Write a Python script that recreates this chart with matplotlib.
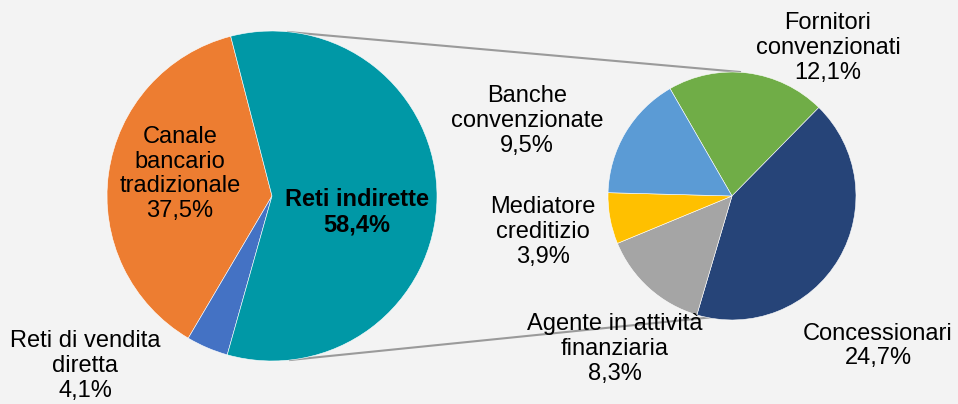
import matplotlib.pyplot as plt

plt.rcParams['font.family'] = ['Liberation Sans', 'DejaVu Sans']

# main pie
main_labels = ['Canale\nbancario\ntradizionale', 'Reti di vendita\ndiretta', 'Reti indirette']
main_values = [37.5, 4.1, 58.4]
main_colors = ['#ED7D31', '#4472C4', '#0098A6']

# breakdown of "Reti indirette"
sub_labels = ['Fornitori\nconvenzionati', 'Concessionari', 'Agente in attività\nfinanziaria',
              'Mediatore\ncreditizio', 'Banche\nconvenzionate']
sub_values = [12.1, 24.7, 8.3, 3.9, 9.5]
sub_colors = ['#70AD47', '#264478', '#A5A5A5', '#FFC000', '#5B9BD5']


def pct(v):
    return f'{v:.1f}%'.replace('.', ',')


fig = plt.figure(figsize=(9.58, 4.04), dpi=100)
fig.patch.set_facecolor('#f3f3f3')
ax = fig.add_axes([0, 0, 1, 1])
ax.set_facecolor('#f3f3f3')

c1, r1 = (272, 208), 165
c2, r2 = (732, 208), 124

ax.pie(main_values, colors=main_colors, startangle=104.5, counterclock=True,
       center=c1, radius=r1, frame=True,
       wedgeprops=dict(edgecolor='white', linewidth=0.4))
ax.pie(sub_values, colors=sub_colors, startangle=120, counterclock=False,
       center=c2, radius=r2, frame=True,
       wedgeprops=dict(edgecolor='white', linewidth=0.4))
ax.set_xlim(0, 958)
ax.set_ylim(0, 404)
ax.set_aspect('equal')
ax.axis('off')

# connector lines
ax.plot([c1[0] + 16, c2[0] + 8], [c1[1] + r1 - 1, c2[1] + r2], color='#9a9a9a', lw=1.5, zorder=0.5)
ax.plot([c1[0] + 18, c2[0] - 8], [c1[1] - r1 + 1, c2[1] - r2 + 4], color='#9a9a9a', lw=1.5, zorder=0.5)

fs = 17
ls = 1.15
ax.text(180, 230, main_labels[0] + '\n' + pct(main_values[0]), ha='center', va='center',
        fontsize=fs, linespacing=ls)
ax.text(85, 38, main_labels[1] + '\n' + pct(main_values[1]), ha='center', va='center',
        fontsize=fs, linespacing=ls)
ax.text(357, 192, main_labels[2] + '\n' + pct(main_values[2]), ha='center', va='center',
        fontsize=fs, linespacing=ls, fontweight='bold')

sub_pos = [(828, 356), (878, 58), (615, 55), (543, 172), (527, 283)]
for lab, v, (x, y) in zip(sub_labels, sub_values, sub_pos):
    ax.text(x, y, lab + '\n' + pct(v), ha='center', va='center', fontsize=fs, linespacing=ls)

fig.savefig('out.png', dpi=100, facecolor=fig.get_facecolor())
